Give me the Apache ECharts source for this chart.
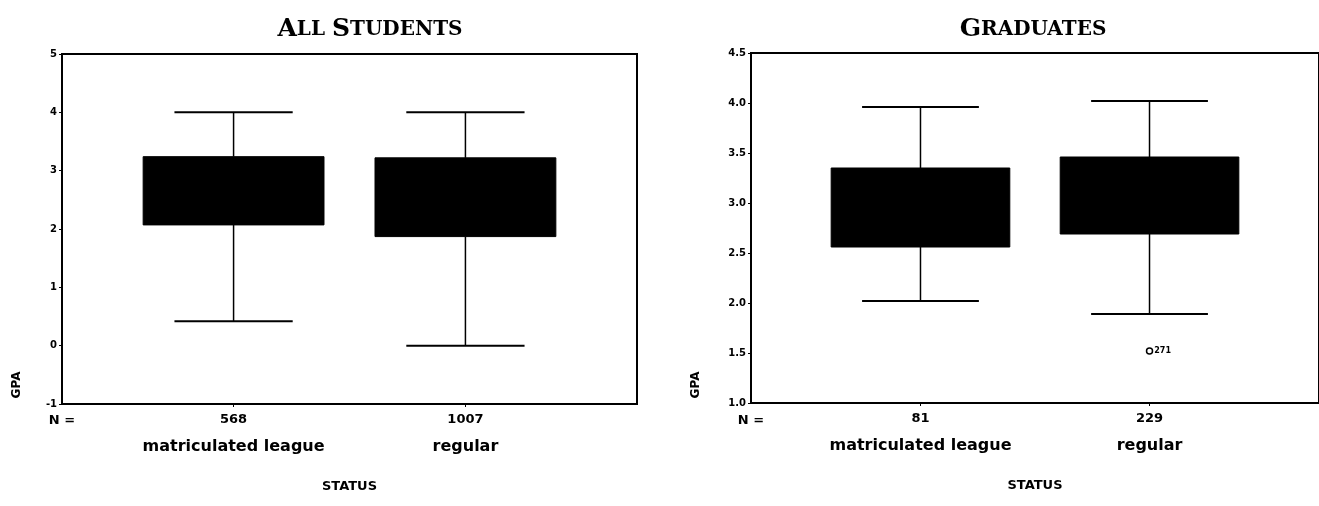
<!DOCTYPE html>
<html>
<head>
<meta charset="utf-8">
<script src="https://cdn.jsdelivr.net/npm/echarts@6/dist/echarts.min.js"></script>
<style>
  html, body { margin: 0; padding: 0; background: #fff; }
  #chart { width: 1319px; height: 506px; }
</style>
</head>
<body>
<div id="chart"></div>
<script>
// Group labels and sample sizes
const categories = ['matriculated league', 'regular'];
const allStudentsN = [568, 1007];
const graduatesN = [81, 229];

// GPA box summaries: lower whisker, lower hinge, upper hinge, upper whisker
const allStudentsLow = [0.42, 0.0];
const allStudentsQ1 = [2.07, 1.87];
const allStudentsQ3 = [3.24, 3.22];
const allStudentsHigh = [4.0, 4.0];

const graduatesLow = [2.02, 1.89];
const graduatesQ1 = [2.56, 2.69];
const graduatesQ3 = [3.35, 3.46];
const graduatesHigh = [3.96, 4.02];

// Outlying case among graduates: [group index, GPA, case number]
const graduatesOutliers = [[1, 1.52, '271']];

// Axis ranges
const allStudentsY = { min: -1, max: 5, interval: 1 };
const graduatesY = { min: 1, max: 4.5, interval: 0.5 };

const X_MIN = -0.74, X_MAX = 1.74;
const BOX_FRACTION = 0.78;   // box width, in group spacings
const CAP_FRACTION = 0.51;   // whisker cap width, in group spacings

function boxRows(low, q1, q3, high) {
  return low.map((v, i) => [i, v, q1[i], q3[i], high[i]]);
}

function renderBox(params, api) {
  const x = api.value(0);
  const pLow = api.coord([x, api.value(1)]);
  const pQ1 = api.coord([x, api.value(2)]);
  const pQ3 = api.coord([x, api.value(3)]);
  const pHigh = api.coord([x, api.value(4)]);
  const unit = api.size([1, 0])[0];
  const bw = unit * BOX_FRACTION;
  const cw = unit * CAP_FRACTION;
  const cx = pLow[0];
  const lineStyle = { stroke: '#000', lineWidth: 1.5 };
  const capStyle = { stroke: '#000', lineWidth: 2 };
  return {
    type: 'group',
    children: [
      { type: 'line', shape: { x1: cx, y1: pHigh[1], x2: cx, y2: pQ3[1] }, style: lineStyle },
      { type: 'line', shape: { x1: cx, y1: pQ1[1], x2: cx, y2: pLow[1] }, style: lineStyle },
      { type: 'line', shape: { x1: cx - cw / 2, y1: pHigh[1], x2: cx + cw / 2, y2: pHigh[1] }, style: capStyle },
      { type: 'line', shape: { x1: cx - cw / 2, y1: pLow[1], x2: cx + cw / 2, y2: pLow[1] }, style: capStyle },
      { type: 'rect', shape: { x: cx - bw / 2, y: pQ3[1], width: bw, height: pQ1[1] - pQ3[1] },
        style: { fill: '#000', stroke: '#000', lineWidth: 1 } }
    ]
  };
}

const FONT = 'DejaVu Sans';

function xAxisFor(gridIndex, nValues) {
  return {
    type: 'value', gridIndex, min: X_MIN, max: X_MAX,
    splitLine: { show: false },
    axisLine: { show: true, onZero: false, lineStyle: { color: '#000', width: 2 } },
    axisTick: { show: true, customValues: [0, 1], length: 3, lineStyle: { color: '#000', width: 1 } },
    axisLabel: {
      customValues: [0, 1],
      margin: 6,
      color: '#000',
      formatter: v => '{n|' + nValues[Math.round(v)] + '}\n{c|' + categories[Math.round(v)] + '}',
      rich: {
        n: { fontFamily: FONT, fontWeight: 'bold', fontSize: 13, lineHeight: 20, color: '#000' },
        c: { fontFamily: FONT, fontWeight: 'bold', fontSize: 16, lineHeight: 34, color: '#000' }
      }
    },
    name: 'STATUS', nameLocation: 'middle', nameGap: 76,
    nameTextStyle: { fontFamily: FONT, fontWeight: 'bold', fontSize: 13, color: '#000' }
  };
}

function yAxisFor(gridIndex, range, decimals) {
  return {
    type: 'value', gridIndex, min: range.min, max: range.max, interval: range.interval,
    splitLine: { show: false },
    axisLine: { show: true, onZero: false, lineStyle: { color: '#000', width: 2 } },
    axisTick: { show: true, length: 3, lineStyle: { color: '#000', width: 1 } },
    axisLabel: {
      margin: 5, color: '#000', fontFamily: FONT, fontWeight: 'bold', fontSize: 10,
      formatter: v => v.toFixed(decimals)
    }
  };
}

function smallCapsTitle(words) {
  return words.map(w => '{big|' + w[0] + '}{small|' + w.slice(1) + '}').join('{small| }');
}
const titleRich = {
  big: { fontFamily: 'DejaVu Serif', fontWeight: 'bold', fontSize: 25, color: '#000' },
  small: { fontFamily: 'DejaVu Serif', fontWeight: 'bold', fontSize: 20, color: '#000' }
};

const chart = echarts.init(document.getElementById('chart'), null, { renderer: 'canvas' });
chart.setOption({
  animation: false,
  backgroundColor: '#fff',
  title: [
    { text: smallCapsTitle(['ALL', 'STUDENTS']), left: 365, top: 12, textAlign: 'center',
      textStyle: { rich: titleRich } },
    { text: smallCapsTitle(['GRADUATES']), left: 1028, top: 12, textAlign: 'center',
      textStyle: { rich: titleRich } }
  ],
  grid: [
    { left: 62, top: 54, width: 575, height: 350, show: true, borderColor: '#000', borderWidth: 2, backgroundColor: 'transparent' },
    { left: 751, top: 53, width: 575, height: 350, show: true, borderColor: '#000', borderWidth: 2, backgroundColor: 'transparent' }
  ],
  xAxis: [xAxisFor(0, allStudentsN), xAxisFor(1, graduatesN)],
  yAxis: [yAxisFor(0, allStudentsY, 0), yAxisFor(1, graduatesY, 1)],
  graphic: [
    { type: 'text', x: 17, y: 385, rotation: Math.PI / 2,
      style: { text: 'GPA', fontFamily: FONT, fontWeight: 'bold', fontSize: 12, fill: '#000', align: 'center', verticalAlign: 'middle' } },
    { type: 'text', x: 696, y: 385, rotation: Math.PI / 2,
      style: { text: 'GPA', fontFamily: FONT, fontWeight: 'bold', fontSize: 12, fill: '#000', align: 'center', verticalAlign: 'middle' } },
    { type: 'text', x: 62, y: 421,
      style: { text: 'N =', fontFamily: FONT, fontWeight: 'bold', fontSize: 13, fill: '#000', align: 'center', verticalAlign: 'middle' } },
    { type: 'text', x: 751, y: 421,
      style: { text: 'N =', fontFamily: FONT, fontWeight: 'bold', fontSize: 13, fill: '#000', align: 'center', verticalAlign: 'middle' } }
  ],
  series: [
    { type: 'custom', xAxisIndex: 0, yAxisIndex: 0, renderItem: renderBox,
      data: boxRows(allStudentsLow, allStudentsQ1, allStudentsQ3, allStudentsHigh) },
    { type: 'custom', xAxisIndex: 1, yAxisIndex: 1, renderItem: renderBox,
      data: boxRows(graduatesLow, graduatesQ1, graduatesQ3, graduatesHigh) },
    { type: 'scatter', xAxisIndex: 1, yAxisIndex: 1, symbol: 'circle', symbolSize: 6,
      itemStyle: { color: '#fff', borderColor: '#000', borderWidth: 1.5, opacity: 1 },
      label: { show: true, position: 'right', distance: 1, formatter: p => p.data[2],
        fontFamily: FONT, fontSize: 8, fontWeight: 'bold', color: '#000' },
      data: graduatesOutliers }
  ]
});
</script>
</body>
</html>
